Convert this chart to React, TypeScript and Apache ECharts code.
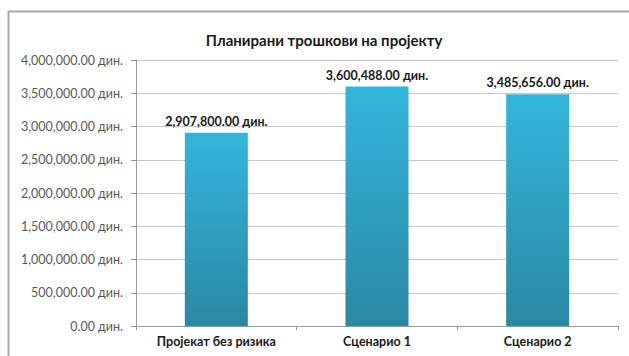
import React, { useEffect, useRef } from "react";
import * as echarts from "echarts";

const title = "Планирани трошкови на пројекту";
const categories = ["Пројекат без ризика", "Сценарио 1", "Сценарио 2"];
const values = [2907800, 3600488, 3485656];
const unit = "дин.";

const fmt = (v: number) =>
  v.toLocaleString("en-US", { minimumFractionDigits: 2, maximumFractionDigits: 2 }) + " " + unit;

export default function App() {
  const ref = useRef<HTMLDivElement>(null);
  useEffect(() => {
    if (!ref.current) return;
    const chart = echarts.init(ref.current, null, { renderer: "svg" });
    const font = "Lato";
    chart.setOption({
      animation: false,
      backgroundColor: "#ffffff",
      textStyle: { fontFamily: font },
      title: {
        text: title,
        left: 319,
        textAlign: "center",
        top: 27,
        textStyle: { fontFamily: font, fontSize: 15, fontWeight: "bold", color: "#1a1a1a" },
      },
      graphic: [
        {
          type: "rect",
          shape: { x: 8.5, y: 11.5, width: 660, height: 380 },
          style: { fill: "none", stroke: "#a9a9a9", lineWidth: 2 },
          silent: true,
        },
      ],
      grid: { left: 136, right: 11, top: 60, bottom: 30, containLabel: false },
      xAxis: {
        type: "category",
        data: categories,
        axisLine: { lineStyle: { color: "#9a9a9a" } },
        axisTick: { show: true, length: 4, lineStyle: { color: "#9a9a9a" } },
        axisLabel: { color: "#1a1a1a", fontSize: 12.5, fontWeight: "bold", fontFamily: font, margin: 9 },
      },
      yAxis: {
        type: "value",
        min: 0,
        max: 4000000,
        interval: 500000,
        axisLine: { show: true, lineStyle: { color: "#9a9a9a" } },
        axisTick: { show: true, length: 5, lineStyle: { color: "#9a9a9a" } },
        splitLine: { lineStyle: { color: "#c8c8c8" } },
        axisLabel: {
          color: "#595959",
          fontSize: 12.5,
          fontFamily: font,
          margin: 13,
          formatter: (v: number) => fmt(v),
        },
      },
      series: [
        {
          type: "bar",
          data: values,
          barWidth: 63,
          itemStyle: {
            color: new echarts.graphic.LinearGradient(0, 0, 0, 1, [
              { offset: 0, color: "#33b6dc" },
              { offset: 1, color: "#2a88a4" },
            ]),
          },
          label: {
            show: true,
            position: "top",
            distance: 5,
            color: "#1a1a1a",
            fontSize: 12.5,
            fontWeight: "bold",
            fontFamily: font,
            formatter: (p: any) => fmt(p.value),
          },
        },
      ],
    });
    return () => chart.dispose();
  }, []);
  return <div ref={ref} style={{ position: "fixed", left: 0, top: 0, width: 629, height: 356 }} />;
}
